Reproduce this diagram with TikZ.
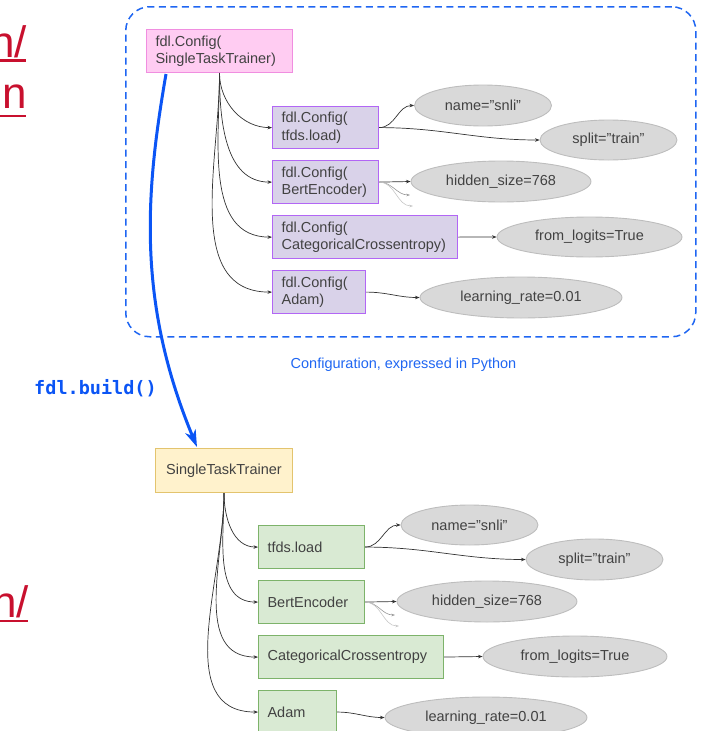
\documentclass[tikz,border=0pt]{standalone}
\usepackage{fontspec}
\setmainfont{Liberation Sans}
\setmonofont{DejaVu Sans Mono}
\usetikzlibrary{shapes.geometric,arrows.meta}
\definecolor{txt}{HTML}{424242}
\definecolor{pinkfill}{HTML}{FFCCF2}
\definecolor{pinkdraw}{HTML}{F08EE0}
\definecolor{purpfill}{HTML}{D9D2E9}
\definecolor{purpdraw}{HTML}{B266F5}
\definecolor{greenfill}{HTML}{D9EAD3}
\definecolor{greendraw}{HTML}{7DB36A}
\definecolor{yelfill}{HTML}{FFF2CC}
\definecolor{yeldraw}{HTML}{E3C46E}
\definecolor{ellfill}{HTML}{D9D9D9}
\definecolor{elldraw}{HTML}{BDBDBD}
\definecolor{bluel}{HTML}{1F66F2}
\definecolor{bluea}{HTML}{0B55F5}
\definecolor{redt}{HTML}{C8102E}
\definecolor{edgec}{HTML}{333333}
\begin{document}
\begin{tikzpicture}[x=1pt,y=-1pt,
  base/.style={font=\fontsize{14.5}{17.5}\selectfont, text=txt, inner xsep=9pt, inner ysep=0pt, align=left, anchor=north west},
  pbox/.style={base, draw=pinkdraw, fill=pinkfill, line width=1pt},
  vbox/.style={base, draw=purpdraw, fill=purpfill, line width=1.2pt},
  gbox/.style={base, draw=greendraw, fill=greenfill, line width=1.1pt},
  ybox/.style={base, draw=yeldraw, fill=yelfill, line width=1pt, align=center},
  ell/.style={ellipse, draw=elldraw, fill=ellfill, line width=0.9pt, inner sep=0pt, font=\fontsize{14.5}{17.5}\selectfont, text=txt},
  edge/.style={draw=edgec, line width=0.7pt, -{Stealth[length=4.5pt,width=3.5pt]}},
  faint/.style={line width=0.6pt, -{Stealth[length=3.5pt,width=2.5pt]}},
  redtxt/.style={font=\fontsize{44}{50}\selectfont, text=redt, inner sep=0pt, anchor=base east}
]
\useasboundingbox (0,0) rectangle (702,731);

% red fragments at left
\node[redtxt] (r1) at (27,57) {n/};
\node[redtxt] (r2) at (27,108) {on};
\node[redtxt] (r3) at (29,617) {n/};
\coordinate (u1a) at (0,60.5); \coordinate (u1b) at (26,60.5);
\coordinate (u2a) at (0,116); \coordinate (u2b) at (26,116);
\coordinate (u3a) at (0,621); \coordinate (u3b) at (28,621);
\draw[redt, line width=2.6pt] (u1a) -- (u1b);
\draw[redt, line width=2.6pt] (u2a) -- (u2b);
\draw[redt, line width=2.6pt] (u3a) -- (u3b);

% dashed configuration frame
\node[draw=bluel, dash pattern=on 7pt off 4.5pt, line width=1.5pt, rounded corners=24pt,
      minimum width=570pt, minimum height=330pt, inner sep=0pt, anchor=north west] (frame) at (125,6) {};

% top (config) graph
\node[pbox, text width=128pt, minimum height=43pt] (pink) at (146,29) {fdl.Config(\\SingleTaskTrainer)};
\node[vbox, text width=88pt, minimum height=42pt] (tfds) at (272,106) {fdl.Config(\\tfds.load)};
\node[vbox, text width=88pt, minimum height=43pt] (bert) at (272,160) {fdl.Config(\\BertEncoder)};
\node[vbox, text width=167pt, minimum height=43pt] (cce) at (272,215) {fdl.Config(\\CategoricalCrossentropy)};
\node[vbox, text width=75pt, minimum height=43pt] (adam) at (272,270) {fdl.Config(\\Adam)};

\node[ell, minimum width=137pt, minimum height=41pt] (name) at (483,105.5) {name=”snli”};
\node[ell, minimum width=137pt, minimum height=40pt] (split) at (608.5,140) {split=”train”};
\node[ell, minimum width=180pt, minimum height=41pt] (hidden) at (501,181.5) {hidden\_size=768};
\node[ell, minimum width=185pt, minimum height=40pt] (logits) at (589.5,237) {from\_logits=True};
\node[ell, minimum width=202pt, minimum height=41pt] (lr) at (521,297.5) {learning\_rate=0.01};

\draw[edge] (pink.south) to[out=-90,in=180] (tfds.west);
\draw[edge] (pink.south) to[out=-90,in=180] (bert.west);
\draw[edge] (pink.south) to[out=-90,in=180] (cce.west);
\draw[edge] (pink.south) to[out=-90,in=180] (adam.west);
\draw[edge] (tfds.east) to[out=0,in=180] (name.west);
\draw[edge] (tfds.east) to[out=0,in=180] (split.west);
\draw[edge] (bert.east) -- (hidden.west);
\draw[edge] (cce.east) -- (logits.west);
\draw[edge] (adam.east) to[out=0,in=180] (lr.west);
\coordinate (f1) at (410,195);
\coordinate (f2) at (413,206);
\draw[faint, draw=black!40] (bert.east) to[out=0,in=180] (f1);
\draw[faint, draw=black!22] (bert.east) to[out=0,in=180] (f2);

% caption and build arrow
\node[font=\fontsize{14.5}{17}\selectfont, text=bluel] (cap) at (403.5,365) {Configuration, expressed in Python};
\node[font=\fontsize{18.5}{22}\selectfont\ttfamily\bfseries, text=bluea] (build) at (95.5,388) {fdl.build()};

% bottom (built objects) graph
\node[ybox, minimum width=137pt, minimum height=44pt, inner xsep=0pt] (yel) at (155,448) {SingleTaskTrainer};
\node[gbox, text width=88pt, minimum height=43pt] (gtfds) at (258,525) {tfds.load};
\node[gbox, text width=88pt, minimum height=43pt] (gbert) at (258,580) {BertEncoder};
\node[gbox, text width=167pt, minimum height=43pt] (gcce) at (258,635) {CategoricalCrossentropy};
\node[gbox, text width=60pt, minimum height=43pt] (gadam) at (258,690) {Adam};

\node[ell, minimum width=137pt, minimum height=40pt] (bname) at (469.5,525) {name=”snli”};
\node[ell, minimum width=137pt, minimum height=41pt] (bsplit) at (594.5,559.5) {split=”train”};
\node[ell, minimum width=180pt, minimum height=41pt] (bhidden) at (487,601.5) {hidden\_size=768};
\node[ell, minimum width=184pt, minimum height=41pt] (blogits) at (575,656.5) {from\_logits=True};
\node[ell, minimum width=202pt, minimum height=41pt] (blr) at (486,717.5) {learning\_rate=0.01};

\draw[edge] (yel.south) to[out=-90,in=180] (gtfds.west);
\draw[edge] (yel.south) to[out=-90,in=180] (gbert.west);
\draw[edge] (yel.south) to[out=-90,in=180] (gcce.west);
\draw[edge] (yel.south) to[out=-90,in=180] (gadam.west);
\draw[edge] (gtfds.east) to[out=0,in=180] (bname.west);
\draw[edge] (gtfds.east) to[out=0,in=180] (bsplit.west);
\draw[edge] (gbert.east) -- (bhidden.west);
\draw[edge] (gcce.east) -- (blogits.west);
\draw[edge] (gadam.east) to[out=0,in=180] (blr.west);
\coordinate (g1) at (395,615);
\coordinate (g2) at (399,626);
\draw[faint, draw=black!40] (gbert.east) to[out=0,in=180] (g1);
\draw[faint, draw=black!22] (gbert.east) to[out=0,in=180] (g2);

% build arrow from config to object
\coordinate (bs) at (166,74);
\coordinate (be) at (197,447);
\draw[bluea, line width=3pt, -{Stealth[length=17pt,width=11pt,inset=5pt]}]
  (bs) .. controls (146,190) and (136,300) .. (be);
\end{tikzpicture}
\end{document}
